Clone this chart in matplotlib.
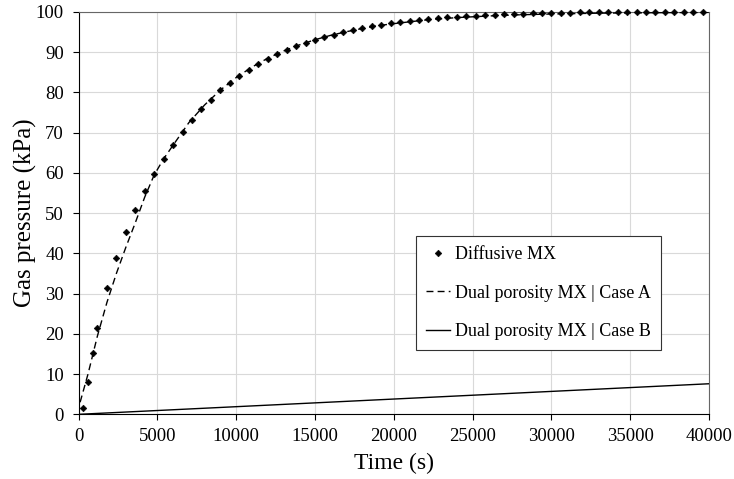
import matplotlib
matplotlib.use("Agg")
import matplotlib.pyplot as plt

# Diffusive MX (markers)
t_diff = [300, 600, 900, 1200, 1800, 2400, 3000, 3600, 4200, 4800, 5400, 6000,
          6600, 7200, 7800, 8400, 9000, 9600, 10200, 10800, 11400, 12000, 12600,
          13200, 13800, 14400, 15000, 15600, 16200, 16800, 17400, 18000, 18600,
          19200, 19800, 20400, 21000, 21600, 22200, 22800, 23400, 24000, 24600,
          25200, 25800, 26400, 27000, 27600, 28200, 28800, 29400, 30000, 30600,
          31200, 31800, 32400, 33000, 33600, 34200, 34800, 35400, 36000, 36600,
          37200, 37800, 38400, 39000, 39600]
p_diff = [1.5, 8.1, 15.2, 21.5, 31.4, 38.8, 45.3, 50.7, 55.4, 59.7, 63.5, 66.9,
          70.2, 73.2, 75.9, 78.2, 80.5, 82.4, 84.2, 85.7, 87.1, 88.4, 89.5,
          90.5, 91.5, 92.3, 93.1, 93.8, 94.4, 95.0, 95.5, 96.0, 96.4,
          96.8, 97.2, 97.5, 97.8, 98.1, 98.3, 98.5, 98.7, 98.8, 98.9,
          99.1, 99.2, 99.3, 99.4, 99.5, 99.6, 99.7, 99.7, 99.8, 99.8,
          99.8, 99.9, 99.9, 99.9, 99.9, 99.9, 100.0, 100.0, 100.0, 100.0,
          100.0, 100.0, 100.0, 100.0, 100.0]

# Dual porosity MX | Case A (dashed)
t_caseA = [100, 600, 1200, 1800, 2400, 3000, 3600, 4200, 4800, 5400, 6000, 7000,
           8000, 9000, 10000, 11000, 12000, 13000, 14000, 15000, 16000, 17000,
           18000, 19000, 20000, 22000, 24000, 26000, 28000, 30000, 33000, 36000,
           40000]
p_caseA = [3.0, 10.0, 19.5, 27.8, 35.0, 41.5, 47.6, 54.0, 59.5, 63.5, 66.9, 72.5,
           76.9, 80.6, 83.7, 86.3, 88.5, 90.3, 91.8, 93.1, 94.2, 95.1,
           95.9, 96.6, 97.1, 98.0, 98.6, 99.0, 99.3, 99.5, 99.7, 99.8,
           99.9]

# Dual porosity MX | Case B (solid)
t_caseB = [0, 5000, 10000, 15000, 20000, 25000, 30000, 35000, 40000]
p_caseB = [0.0, 0.95, 1.9, 2.85, 3.8, 4.75, 5.7, 6.65, 7.6]

plt.rcParams['font.family'] = ['Liberation Serif', 'DejaVu Serif']

fig = plt.figure(figsize=(7.34, 4.79), dpi=100)
ax = fig.add_axes([0.107, 0.135, 0.859, 0.840])

ax.plot(t_diff, p_diff, linestyle='none', marker='D', markersize=3.4,
        markeredgewidth=0.4, color='black', label='Diffusive MX',
        clip_on=False, zorder=4)
ax.plot(t_caseA, p_caseA, color='black', linewidth=1.0, dashes=(5, 3),
        label='Dual porosity MX | Case A', zorder=3)
ax.plot(t_caseB, p_caseB, color='black', linewidth=1.0,
        label='Dual porosity MX | Case B', zorder=3)

ax.set_xlim(0, 40000)
ax.set_ylim(0, 100)
ax.set_xticks(range(0, 40001, 5000))
ax.set_yticks(range(0, 101, 10))
ax.grid(True, color='#d9d9d9', linewidth=0.8)
ax.set_axisbelow(True)

ax.tick_params(direction='out', length=4.5, width=0.8, colors='black',
               labelsize=13.5)
ax.tick_params(axis='x', pad=5)
ax.tick_params(axis='y', pad=6)
for side in ['top', 'right']:
    ax.spines[side].set_color('#666666')
for side in ['left', 'bottom']:
    ax.spines[side].set_color('black')

ax.set_xlabel('Time (s)', fontsize=17, labelpad=6)
ax.set_ylabel('Gas pressure (kPa)', fontsize=18, labelpad=-1)

leg = ax.legend(loc='upper left', bbox_to_anchor=(0.536, 0.443),
                borderaxespad=0, fontsize=13, frameon=True, fancybox=False,
                edgecolor='#333333', framealpha=1, labelspacing=1.2,
                handlelength=1.3, handletextpad=0.3, borderpad=0.55)
leg.get_frame().set_linewidth(0.8)

fig.savefig('out.png', dpi=100)
